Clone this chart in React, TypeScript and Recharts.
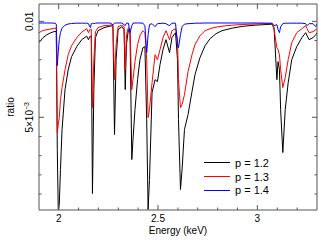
import { Label, Legend, Line, LineChart, XAxis, YAxis } from "recharts";

// energy grid (keV) and ratio for each power-law index
const energy = [
  1.901, 1.921, 1.941, 1.961, 1.981, 1.988, 1.993, 1.998, 2.003, 2.009,
  2.017, 2.032, 2.048, 2.065, 2.091, 2.116, 2.141, 2.15, 2.156, 2.16,
  2.164, 2.17, 2.177, 2.185, 2.198, 2.228, 2.258, 2.273, 2.281, 2.289,
  2.299, 2.318, 2.329, 2.335, 2.341, 2.351, 2.359, 2.368, 2.374, 2.384,
  2.397, 2.409, 2.424, 2.434, 2.443, 2.45, 2.457, 2.47, 2.485, 2.497,
  2.51, 2.525, 2.54, 2.558, 2.57, 2.588, 2.598, 2.603, 2.613, 2.621,
  2.633, 2.651, 2.671, 2.686, 2.711, 2.737, 2.762, 2.792, 2.822, 2.873,
  2.923, 2.988, 3.074, 3.084, 3.098, 3.104, 3.111, 3.117, 3.128, 3.14,
  3.155, 3.173, 3.198, 3.224, 3.243, 3.25, 3.26, 3.28, 3.294, 3.3,
];

const ratioP12 = [
  0.00889, 0.009151, 0.009307, 0.009411, 0.009479, 0.009463, 0.003318, 0.0001, 0.00045, 0.002276,
  0.004359, 0.006443, 0.007484, 0.008161, 0.008682, 0.009047, 0.009229, 0.009047, 0.009203, 0.009203,
  0.009255, 0.001026, 0.006443, 0.009151, 0.009515, 0.009672, 0.00975, 0.009776, 0.004099, 0.008005,
  0.009567, 0.009724, 0.009567, 0.006443, 0.008786, 0.009567, 0.009411, 0.002797, 0.003839, 0.005401,
  0.006963, 0.008005, 0.00863, 0.008682, 0.00488, 0.000193, 0.001755, 0.006286, 0.006963, 0.006859,
  0.007745, 0.008526, 0.009047, 0.00837, 0.009151, 0.009411, 0.008005, 0.00488, 0.001234, 0.002276,
  0.004359, 0.005141, 0.006338, 0.007224, 0.008109, 0.008734, 0.009099, 0.009359, 0.009515, 0.009646,
  0.009739, 0.009802, 0.009854, 0.009672, 0.006963, 0.007901, 0.007484, 0.005401, 0.003162, 0.005401,
  0.006807, 0.008005, 0.008682, 0.009151, 0.009411, 0.009255, 0.009047, 0.009151, 0.009307, 0.009411,
];

const ratioP13 = [
  0.009411, 0.009531, 0.009567, 0.009604, 0.009646, 0.00962, 0.004203, 0.00462, 0.004984, 0.005922,
  0.006547, 0.007484, 0.008265, 0.008734, 0.009151, 0.009437, 0.00962, 0.009411, 0.009567, 0.009567,
  0.009594, 0.005505, 0.008005, 0.009463, 0.009672, 0.009776, 0.009802, 0.009828, 0.006963, 0.008786,
  0.009724, 0.009802, 0.009724, 0.007484, 0.009307, 0.009672, 0.009567, 0.006443, 0.006963, 0.007901,
  0.008786, 0.009255, 0.009515, 0.009411, 0.008005, 0.004984, 0.005401, 0.006807, 0.008265, 0.008005,
  0.008526, 0.009151, 0.009515, 0.009047, 0.009515, 0.00962, 0.009047, 0.006963, 0.005505, 0.005661,
  0.006182, 0.00738, 0.008265, 0.008786, 0.009255, 0.009515, 0.00962, 0.009698, 0.00975, 0.009802,
  0.009838, 0.009864, 0.00989, 0.009567, 0.00863, 0.008526, 0.008265, 0.007484, 0.006547, 0.007068,
  0.008005, 0.00889, 0.009411, 0.00962, 0.009776, 0.00962, 0.009411, 0.009463, 0.009567, 0.00962,
];

const ratioP14 = [
  0.009916, 0.009916, 0.009916, 0.009916, 0.009906, 0.009854, 0.007693, 0.008422, 0.009047, 0.009411,
  0.009646, 0.009802, 0.009864, 0.00989, 0.009906, 0.009906, 0.009906, 0.00988, 0.009724, 0.009672,
  0.00988, 0.009906, 0.00988, 0.009906, 0.009916, 0.009916, 0.009916, 0.009828, 0.009906, 0.009916,
  0.009916, 0.009916, 0.009828, 0.009776, 0.009906, 0.009906, 0.009411, 0.009776, 0.009906, 0.009916,
  0.009916, 0.009916, 0.009906, 0.009776, 0.00837, 0.009307, 0.009828, 0.00988, 0.009724, 0.00988,
  0.00989, 0.009906, 0.00988, 0.009776, 0.009906, 0.009906, 0.008786, 0.00863, 0.009307, 0.009724,
  0.009854, 0.00988, 0.00989, 0.009906, 0.009906, 0.009916, 0.009916, 0.009916, 0.009916, 0.009916,
  0.009916, 0.009916, 0.009906, 0.009776, 0.009828, 0.009567, 0.009411, 0.009724, 0.00988, 0.009906,
  0.009906, 0.009906, 0.009906, 0.009906, 0.00988, 0.009776, 0.00988, 0.00988, 0.009724, 0.00988,
];

const seriesNames = ["p = 1.2", "p = 1.3", "p = 1.4"];
const xTicks = [2, 2.1, 2.2, 2.3, 2.4, 2.5, 2.6, 2.7, 2.8, 2.9, 3, 3.1, 3.2];
const yTicks = [0.001, 0.002, 0.003, 0.004, 0.005, 0.006, 0.007, 0.008, 0.009, 0.01];

const rows = energy.map((e, i) => ({
  e,
  p12: ratioP12[i],
  p13: ratioP13[i],
  p14: ratioP14[i],
}));

const FONT = '"Liberation Sans", Arial, Helvetica, sans-serif';
const AXIS = "#555";
const COLORS = ["#000000", "#ff0000", "#0000ff"];
const X_DOMAIN = [1.901, 3.3];
const Y_DOMAIN = [0.000167, 0.010906];

const majorX = (v: number) => Math.abs(v * 2 - Math.round(v * 2)) < 1e-6;
const majorY = (v: number) => Math.abs(v - 0.005) < 1e-7 || Math.abs(v - 0.01) < 1e-7;

function BottomTick({ x, y, payload }: any) {
  const big = majorX(payload.value);
  return (
    <g>
      <line x1={x} x2={x} y1={y} y2={y - (big ? 5 : 2.5)} stroke={AXIS} />
      {big && (
        <text x={x} y={y + 12} textAnchor="middle" fontSize={10} fontFamily={FONT} fill="#000">
          {String(Math.round(payload.value * 10) / 10)}
        </text>
      )}
    </g>
  );
}

function TopTick({ x, y, payload }: any) {
  const big = majorX(payload.value);
  return <line x1={x} x2={x} y1={y} y2={y + (big ? 5 : 2.5)} stroke={AXIS} />;
}

function LeftTick({ x, y, payload }: any) {
  const v = payload.value;
  const big = majorY(v);
  const lx = x - 5.5;
  return (
    <g>
      <line x1={x} x2={x + (big ? 5 : 2.5)} y1={y} y2={y} stroke={AXIS} />
      {big && (
        <text
          x={lx}
          y={y}
          transform={`rotate(-90 ${lx} ${y})`}
          textAnchor="middle"
          fontSize={10}
          fontFamily={FONT}
          fill="#000"
        >
          {Math.abs(v - 0.01) < 1e-7 ? (
            "0.01"
          ) : (
            <>
              5×10
              <tspan dy={-4} fontSize={7}>
                −3
              </tspan>
            </>
          )}
        </text>
      )}
    </g>
  );
}

function RightTick({ x, y, payload }: any) {
  const big = majorY(payload.value);
  return <line x1={x} x2={x - (big ? 5 : 2.5)} y1={y} y2={y} stroke={AXIS} />;
}

function LegendBox() {
  return (
    <div style={{ fontFamily: FONT, fontSize: 11, color: "#000" }}>
      {seriesNames.map((n, i) => (
        <div key={n} style={{ display: "flex", alignItems: "center", height: 13.7 }}>
          <svg width={26} height={3} style={{ display: "block" }}>
            <line x1={0} x2={26} y1={1.5} y2={1.5} stroke={COLORS[i]} strokeWidth={1} />
          </svg>
          <span style={{ marginLeft: 5, whiteSpace: "nowrap" }}>{n}</span>
        </div>
      ))}
    </div>
  );
}

export default function App() {
  return (
    <div style={{ position: "absolute", left: 0, top: 0, background: "#fff" }}>
      <LineChart width={319} height={240} data={rows} margin={{ top: 0, right: 0, bottom: 0, left: 0 }}>
        <XAxis
          dataKey="e"
          type="number"
          domain={X_DOMAIN}
          allowDataOverflow
          ticks={xTicks}
          interval={0}
          height={30}
          tickSize={0}
          tickMargin={0}
          axisLine={{ stroke: AXIS }}
          tickLine={false}
          tick={(p: any) => <BottomTick {...p} />}
        >
          <Label
            content={() => (
              <text x={178} y={234} textAnchor="middle" fontSize={10} fontFamily={FONT} fill="#000">
                Energy (keV)
              </text>
            )}
          />
        </XAxis>
        <XAxis
          xAxisId="top"
          orientation="top"
          dataKey="e"
          type="number"
          domain={X_DOMAIN}
          allowDataOverflow
          ticks={xTicks}
          interval={0}
          height={4}
          tickSize={0}
          tickMargin={0}
          axisLine={{ stroke: AXIS }}
          tickLine={false}
          tick={(p: any) => <TopTick {...p} />}
        />
        <YAxis
          type="number"
          domain={Y_DOMAIN}
          allowDataOverflow
          ticks={yTicks}
          interval={0}
          width={39}
          tickSize={0}
          tickMargin={0}
          axisLine={{ stroke: AXIS }}
          tickLine={false}
          tick={(p: any) => <LeftTick {...p} />}
        >
          <Label
            content={() => (
              <text
                x={13.5}
                y={107}
                transform="rotate(-90 13.5 107)"
                textAnchor="middle"
                fontSize={10}
                fontFamily={FONT}
                fill="#000"
              >
                ratio
              </text>
            )}
          />
        </YAxis>
        <YAxis
          yAxisId="right"
          orientation="right"
          type="number"
          domain={Y_DOMAIN}
          allowDataOverflow
          ticks={yTicks}
          interval={0}
          width={2}
          tickSize={0}
          tickMargin={0}
          axisLine={{ stroke: AXIS }}
          tickLine={false}
          tick={(p: any) => <RightTick {...p} />}
        />
        <Line dataKey="p12" name={seriesNames[0]} stroke={COLORS[0]} strokeWidth={1} dot={false} type="linear" isAnimationActive={false} />
        <Line dataKey="p13" name={seriesNames[1]} stroke={COLORS[1]} strokeWidth={1} dot={false} type="linear" isAnimationActive={false} />
        <Line dataKey="p14" name={seriesNames[2]} stroke={COLORS[2]} strokeWidth={1} dot={false} type="linear" isAnimationActive={false} />
        <Legend
          layout="vertical"
          align="center"
          verticalAlign="middle"
          wrapperStyle={{ left: 204, top: 156, width: 80, height: "auto" }}
          content={() => <LegendBox />}
        />
      </LineChart>
    </div>
  );
}
